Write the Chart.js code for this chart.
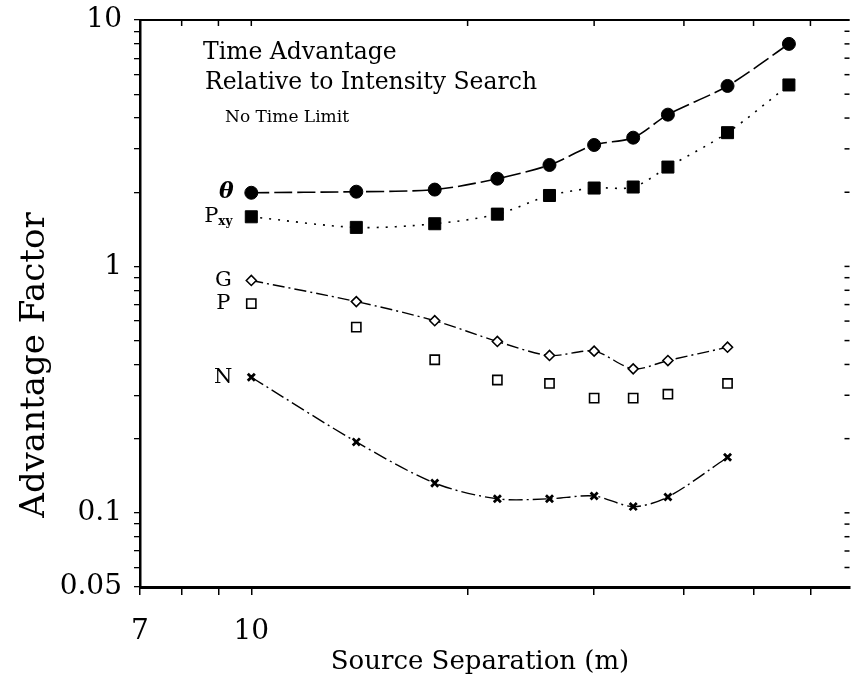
<!DOCTYPE html>
<html><head><meta charset="utf-8">
<script src="https://cdn.jsdelivr.net/npm/chart.js@4.4.1/dist/chart.umd.min.js"></script>
<style>html,body{margin:0;padding:0;background:#fff;}#wrap{width:859px;height:686px;}</style>
</head><body><div id="wrap"><canvas id="c" width="859" height="686"></canvas></div>
<script>
// ---- data ----
const separation = [10, 14, 18, 22, 26, 30, 34, 38, 46, 56];
const thetaValues = [1.99, 2.01, 2.05, 2.27, 2.58, 3.11, 3.33, 4.13, 5.40, 8.0];
const pxyValues   = [1.59, 1.44, 1.49, 1.63, 1.94, 2.08, 2.10, 2.53, 3.49, 5.45];
const separationShort = [10, 14, 18, 22, 26, 30, 34, 38, 46];
const gValues = [0.877, 0.72, 0.602, 0.496, 0.435, 0.453, 0.384, 0.415, 0.47];
const pValues = [0.706, 0.567, 0.418, 0.346, 0.335, 0.292, 0.292, 0.303, 0.335];
const nValues = [0.355, 0.194, 0.132, 0.114, 0.114, 0.117, 0.106, 0.116, 0.168];
const seriesNames = ['θ', 'Pxy', 'G', 'P', 'N'];
const xMin = 7, xMax = 68;
const xTickValues = [7, 8, 9, 10, 20, 30, 40, 50, 60];
const xLabelValues = [7, 10];
const xLabelTexts = ['7', '10'];
const yTickValues = [0.05, 0.06, 0.07, 0.08, 0.09, 0.1, 0.2, 0.3, 0.4, 0.5, 0.6, 0.7, 0.8, 0.9, 1, 2, 3, 4, 5, 6, 7, 8, 9, 10];
const yLabelValues = [0.05, 0.1, 1, 10];
const yLabelTexts = ['0.05', '0.1', '1', '10'];
const titleLines = ['Time Advantage', 'Relative to Intensity Search', 'No Time Limit'];
const xTitle = 'Source Separation (m)';
const yTitle = 'Advantage Factor';

const pts = (xs, ys) => xs.map((x, i) => ({x: x, y: ys[i]}));
const near = (a, b) => Math.abs(a - b) < 1e-9 * Math.max(1, Math.abs(b));
const SERIF = '"DejaVu Serif"';

const annot = {
  id: 'annot',
  afterDraw(chart) {
    const {ctx, chartArea: a, scales: {x, y}} = chart;
    ctx.save();
    ctx.fillStyle = '#000'; ctx.strokeStyle = '#000';
    // top frame line and inward ticks
    ctx.lineWidth = 2;
    ctx.beginPath(); ctx.moveTo(a.left, a.top); ctx.lineTo(a.right, a.top); ctx.stroke();
    ctx.lineWidth = 1.5;
    xTickValues.forEach(v => {
      const px = x.getPixelForValue(v);
      ctx.beginPath(); ctx.moveTo(px, a.top); ctx.lineTo(px, a.top + 6); ctx.stroke();
    });
    yTickValues.forEach(v => {
      const py = y.getPixelForValue(v);
      ctx.beginPath(); ctx.moveTo(a.right, py); ctx.lineTo(a.right - 5, py); ctx.stroke();
    });
    // header text
    ctx.textBaseline = 'middle'; ctx.textAlign = 'left';
    ctx.font = '23.5px ' + SERIF;
    ctx.fillText(titleLines[0], a.left + 63, a.top + 33);
    ctx.fillText(titleLines[1], a.left + 65, a.top + 63);
    ctx.font = '17px ' + SERIF;
    ctx.fillText(titleLines[2], a.left + 85, a.top + 98);
    // axis titles
    ctx.textAlign = 'center';
    ctx.font = '26px ' + SERIF;
    ctx.fillText(xTitle, 480, 662);
    ctx.save();
    ctx.translate(35, 365); ctx.rotate(-Math.PI / 2);
    ctx.font = '34px ' + SERIF;
    ctx.fillText(yTitle, 0, 0);
    ctx.restore();
    // series labels next to first points
    const firstVals = [thetaValues[0], pxyValues[0], gValues[0], pValues[0], nValues[0]];
    const x0 = x.getPixelForValue(separation[0]);
    firstVals.forEach((v, i) => {
      const py = y.getPixelForValue(v);
      if (i === 0) {
        ctx.font = 'italic bold 22px ' + SERIF; ctx.textAlign = 'center';
        ctx.fillText(seriesNames[0], x0 - 25, py);
      } else if (i === 1) {
        ctx.font = '21px ' + SERIF; ctx.textAlign = 'left';
        ctx.fillText('P', x0 - 47, py);
        ctx.font = 'bold 12px ' + SERIF;
        ctx.fillText('xy', x0 - 33, py + 5);
      } else {
        ctx.font = '21px ' + SERIF; ctx.textAlign = 'center';
        ctx.fillText(seriesNames[i], x0 - 28, py);
      }
    });
    ctx.restore();
  }
};

new Chart(document.getElementById('c'), {
  type: 'line',
  data: {
    datasets: [
      {label: seriesNames[0], data: pts(separation, thetaValues), borderColor: '#000', borderWidth: 1.6,
       borderDash: [18, 5], tension: 0.3, pointStyle: 'circle', pointRadius: 6.5,
       pointBackgroundColor: '#000', pointBorderColor: '#000', pointBorderWidth: 1, fill: false},
      {label: seriesNames[1], data: pts(separation, pxyValues), borderColor: '#000', borderWidth: 1.6,
       borderDash: [2, 7], tension: 0.3, pointStyle: 'rect', pointRadius: 8.5,
       pointBackgroundColor: '#000', pointBorderColor: '#000', pointBorderWidth: 1, fill: false},
      {label: seriesNames[2], data: pts(separationShort, gValues), borderColor: '#000', borderWidth: 1.4,
       borderDash: [12, 4, 2, 4], tension: 0.3, pointStyle: 'rectRot', pointRadius: 5,
       pointBackgroundColor: '#fff', pointBorderColor: '#000', pointBorderWidth: 1.6, fill: false},
      {label: seriesNames[3], data: pts(separationShort, pValues), showLine: false, borderColor: '#000',
       pointStyle: 'rect', pointRadius: 6.5, pointBackgroundColor: '#fff', pointBorderColor: '#000',
       pointBorderWidth: 1.6, fill: false},
      {label: seriesNames[4], data: pts(separationShort, nValues), borderColor: '#000', borderWidth: 1.4,
       borderDash: [14, 4, 2, 4], tension: 0.3, pointStyle: 'crossRot', pointRadius: 5,
       pointBorderColor: '#000', pointBorderWidth: 2.8, fill: false}
    ]
  },
  options: {
    responsive: false, animation: false,
    layout: {padding: {top: 20, right: 0, left: 0, bottom: 0}},
    plugins: {legend: {display: false}, tooltip: {enabled: false}},
    scales: {
      x: {
        type: 'logarithmic', position: 'bottom', min: xMin, max: xMax,
        afterFit: s => { s.height = 99; s.paddingRight = 0; s.paddingLeft = 0; },
        afterBuildTicks: s => { s.ticks = xTickValues.map(v => ({value: v})); },
        ticks: {autoSkip: false, maxRotation: 0, minRotation: 0, padding: 20, color: '#000',
          font: {family: 'DejaVu Serif', size: 28},
          callback: v => { const i = xLabelValues.findIndex(t => near(v, t)); return i >= 0 ? xLabelTexts[i] : ''; }},
        grid: {drawOnChartArea: false, drawTicks: true, tickLength: 8, color: '#000', lineWidth: 1.5},
        border: {display: true, color: '#000', width: 3}
      },
      y: {
        type: 'logarithmic', position: 'left', min: 0.05, max: 10,
        afterFit: s => { s.width = 140; s.paddingTop = 0; s.paddingBottom = 0; },
        afterBuildTicks: s => { s.ticks = yTickValues.map(v => ({value: v})); },
        ticks: {autoSkip: false, padding: 12, color: '#000',
          font: {family: 'DejaVu Serif', size: 28},
          callback: v => { const i = yLabelValues.findIndex(t => near(v, t)); return i >= 0 ? yLabelTexts[i] : ''; }},
        grid: {drawOnChartArea: false, drawTicks: true, tickLength: 6, color: '#000', lineWidth: 1.3},
        border: {display: true, color: '#000', width: 2.5}
      }
    }
  },
  plugins: [annot]
});
</script></body></html>
